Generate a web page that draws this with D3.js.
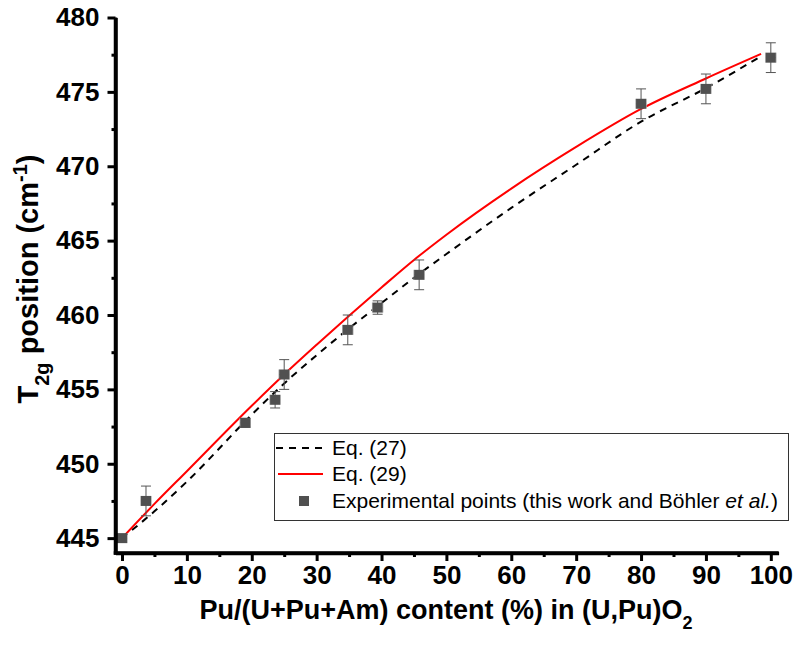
<!DOCTYPE html>
<html><head><meta charset="utf-8">
<script src="https://cdn.jsdelivr.net/npm/d3@7"></script>
<style>body{margin:0;background:#fff}svg{display:block}text{font-family:"Liberation Sans",Arial,sans-serif}</style>
</head><body><svg id="c" width="796" height="648"></svg>
<script>
// Experimental points
const expX = [0, 3.7, 19, 23.6, 25, 34.8, 39.4, 45.8, 80, 90, 100];
const expY = [445, 447.5, 452.75, 454.3, 456.0, 459.0, 460.5, 462.7, 474.2, 475.2, 477.3];
const expErrY = [0, 1.0, 0.3, 0.55, 1.0, 1.0, 0.45, 1.0, 1.0, 1.0, 1.0];
const expErrX = [0.8, 0.8, 0.8, 0.8, 0.8, 0.8, 0.8, 0.8, 0.8, 0.8, 0.8];
// Eq. (27) dashed curve
const eq27X = [0, 5, 10, 20, 25, 30, 35, 40, 45, 50, 60, 70, 80, 90, 98.5];
const eq27Y = [445, 446.8, 448.8, 453.3, 455.4, 457.3, 459.1, 460.8, 462.5, 464.1, 467.2, 470.1, 473.0, 475.25, 477.4];
// Eq. (29) red curve
const eq29X = [0, 5, 10, 20, 25, 30, 35, 40, 45, 50, 60, 70, 80, 90, 98.5];
const eq29Y = [445, 447.3, 449.5, 453.9, 456.0, 458.0, 459.95, 461.85, 463.7, 465.4, 468.5, 471.3, 473.85, 475.9, 477.55];
// Ticks
const xTicks = [0, 10, 20, 30, 40, 50, 60, 70, 80, 90, 100];
const xMinor = [5, 15, 25, 35, 45, 55, 65, 75, 85, 95];
const yTicks = [445, 450, 455, 460, 465, 470, 475, 480];
const yMinor = [447.5, 452.5, 457.5, 462.5, 467.5, 472.5, 477.5];
const legendLabels = ["Eq. (27)", "Eq. (29)", "Experimental points (this work and Böhler "];

const svg = d3.select("#c");
const L = 115.5, R = 778.6, T = 17.5, B = 553;
const x = d3.scaleLinear().domain([-1, 101.2]).range([L, R]);
const y = d3.scaleLinear().domain([444, 480]).range([B, T]);

const line = d3.line().x(d => x(d[0])).y(d => y(d[1])).curve(d3.curveMonotoneX);
svg.append("path").datum(eq27X.map((v, i) => [v, eq27Y[i]]))
  .attr("d", line).attr("fill", "none").attr("stroke", "#000").attr("stroke-width", 2).attr("stroke-dasharray", "7,6");
svg.append("path").datum(eq29X.map((v, i) => [v, eq29Y[i]]))
  .attr("d", line).attr("fill", "none").attr("stroke", "#ff0000").attr("stroke-width", 2);

// Error bars
const pts = expX.map((v, i) => ({x: v, y: expY[i], ey: expErrY[i], ex: expErrX[i]}));
const eg = svg.append("g");
pts.forEach(p => {
  const cx = x(p.x), cy = y(p.y);
  const gx = eg.append("g").attr("stroke", "#a8a8a8").attr("stroke-width", 1);
  gx.append("line").attr("x1", x(p.x - p.ex)).attr("x2", x(p.x + p.ex)).attr("y1", cy).attr("y2", cy);
  [p.x - p.ex, p.x + p.ex].forEach(v => gx.append("line").attr("x1", x(v)).attr("x2", x(v)).attr("y1", cy - 5).attr("y2", cy + 5));
  if (p.ey > 0) {
    const gy = eg.append("g").attr("stroke", "#555").attr("stroke-width", 1);
    gy.append("line").attr("x1", cx).attr("x2", cx).attr("y1", y(p.y - p.ey)).attr("y2", y(p.y + p.ey));
    [p.y - p.ey, p.y + p.ey].forEach(v => gy.append("line").attr("x1", cx - 5).attr("x2", cx + 5).attr("y1", y(v)).attr("y2", y(v)));
  }
});
svg.append("g").selectAll("rect").data(pts).join("rect")
  .attr("x", d => x(d.x) - 5).attr("y", d => y(d.y) - 5).attr("width", 10).attr("height", 10).attr("fill", "#505050");

// Axes
const xAxis = svg.append("g").attr("transform", `translate(0,${B})`)
  .call(d3.axisBottom(x).tickValues(xTicks).tickSize(8).tickPadding(5).tickSizeOuter(0));
const xAxisMinor = svg.append("g").attr("transform", `translate(0,${B})`)
  .call(d3.axisBottom(x).tickValues(xMinor).tickSize(4).tickFormat("").tickSizeOuter(0));
const yAxis = svg.append("g").attr("transform", `translate(${L},0)`)
  .call(d3.axisLeft(y).tickValues(yTicks).tickSize(8).tickPadding(8).tickSizeOuter(0));
const yAxisMinor = svg.append("g").attr("transform", `translate(${L},0)`)
  .call(d3.axisLeft(y).tickValues(yMinor).tickSize(4).tickFormat("").tickSizeOuter(0));
[xAxis, xAxisMinor, yAxis, yAxisMinor].forEach(g => {
  g.selectAll(".domain").attr("stroke", "#000").attr("stroke-width", 3.5);
  g.selectAll(".tick line").attr("stroke", "#000").attr("stroke-width", 3);
  g.selectAll(".tick text").attr("fill", "#000").style("font-size", "26px").style("font-weight", "bold")
    .style("font-family", '"Liberation Sans", Arial, sans-serif');
});
xAxis.select(".domain").attr("d", `M${L - 1.75},0H${R}`);
yAxis.select(".domain").attr("d", `M0,${T}V${B + 1.75}`);

// Axis titles
const xt = svg.append("text").attr("x", 446).attr("y", 619).attr("text-anchor", "middle")
  .style("font-size", "27px").style("font-weight", "bold");
xt.append("tspan").text("Pu/(U+Pu+Am) content (%) in (U,Pu)O");
xt.append("tspan").attr("baseline-shift", "sub").style("font-size", "18px").text("2");

const yt = svg.append("text").attr("transform", "translate(38,279) rotate(-90)").attr("text-anchor", "middle")
  .style("font-size", "29px").style("font-weight", "bold");
yt.append("tspan").text("T");
yt.append("tspan").attr("baseline-shift", "sub").style("font-size", "20px").text("2g");
yt.append("tspan").text(" position (cm");
yt.append("tspan").attr("baseline-shift", "super").style("font-size", "20px").text("-1");
yt.append("tspan").text(")");

// Legend
const lg = svg.append("g");
lg.append("rect").attr("x", 274.5).attr("y", 433.5).attr("width", 514).attr("height", 87)
  .attr("fill", "#fff").attr("stroke", "#333").attr("stroke-width", 1);
const rows = [448, 474, 501];
lg.append("line").attr("x1", 276).attr("x2", 323).attr("y1", rows[0]).attr("y2", rows[0])
  .attr("stroke", "#000").attr("stroke-width", 2).attr("stroke-dasharray", "7,6");
lg.append("line").attr("x1", 278).attr("x2", 323).attr("y1", rows[1]).attr("y2", rows[1])
  .attr("stroke", "#ff0000").attr("stroke-width", 2);
lg.append("rect").attr("x", 299).attr("y", rows[2] - 5).attr("width", 10).attr("height", 10).attr("fill", "#505050");
legendLabels.forEach((t, i) => {
  const tx = lg.append("text").attr("x", 332).attr("y", rows[i]).attr("dy", "0.35em")
    .style("font-size", "21px").attr("fill", "#000").text(t);
  if (i === 2) {
    tx.append("tspan").style("font-style", "italic").text("et al.");
    tx.append("tspan").text(")");
  }
});
</script></body></html>
